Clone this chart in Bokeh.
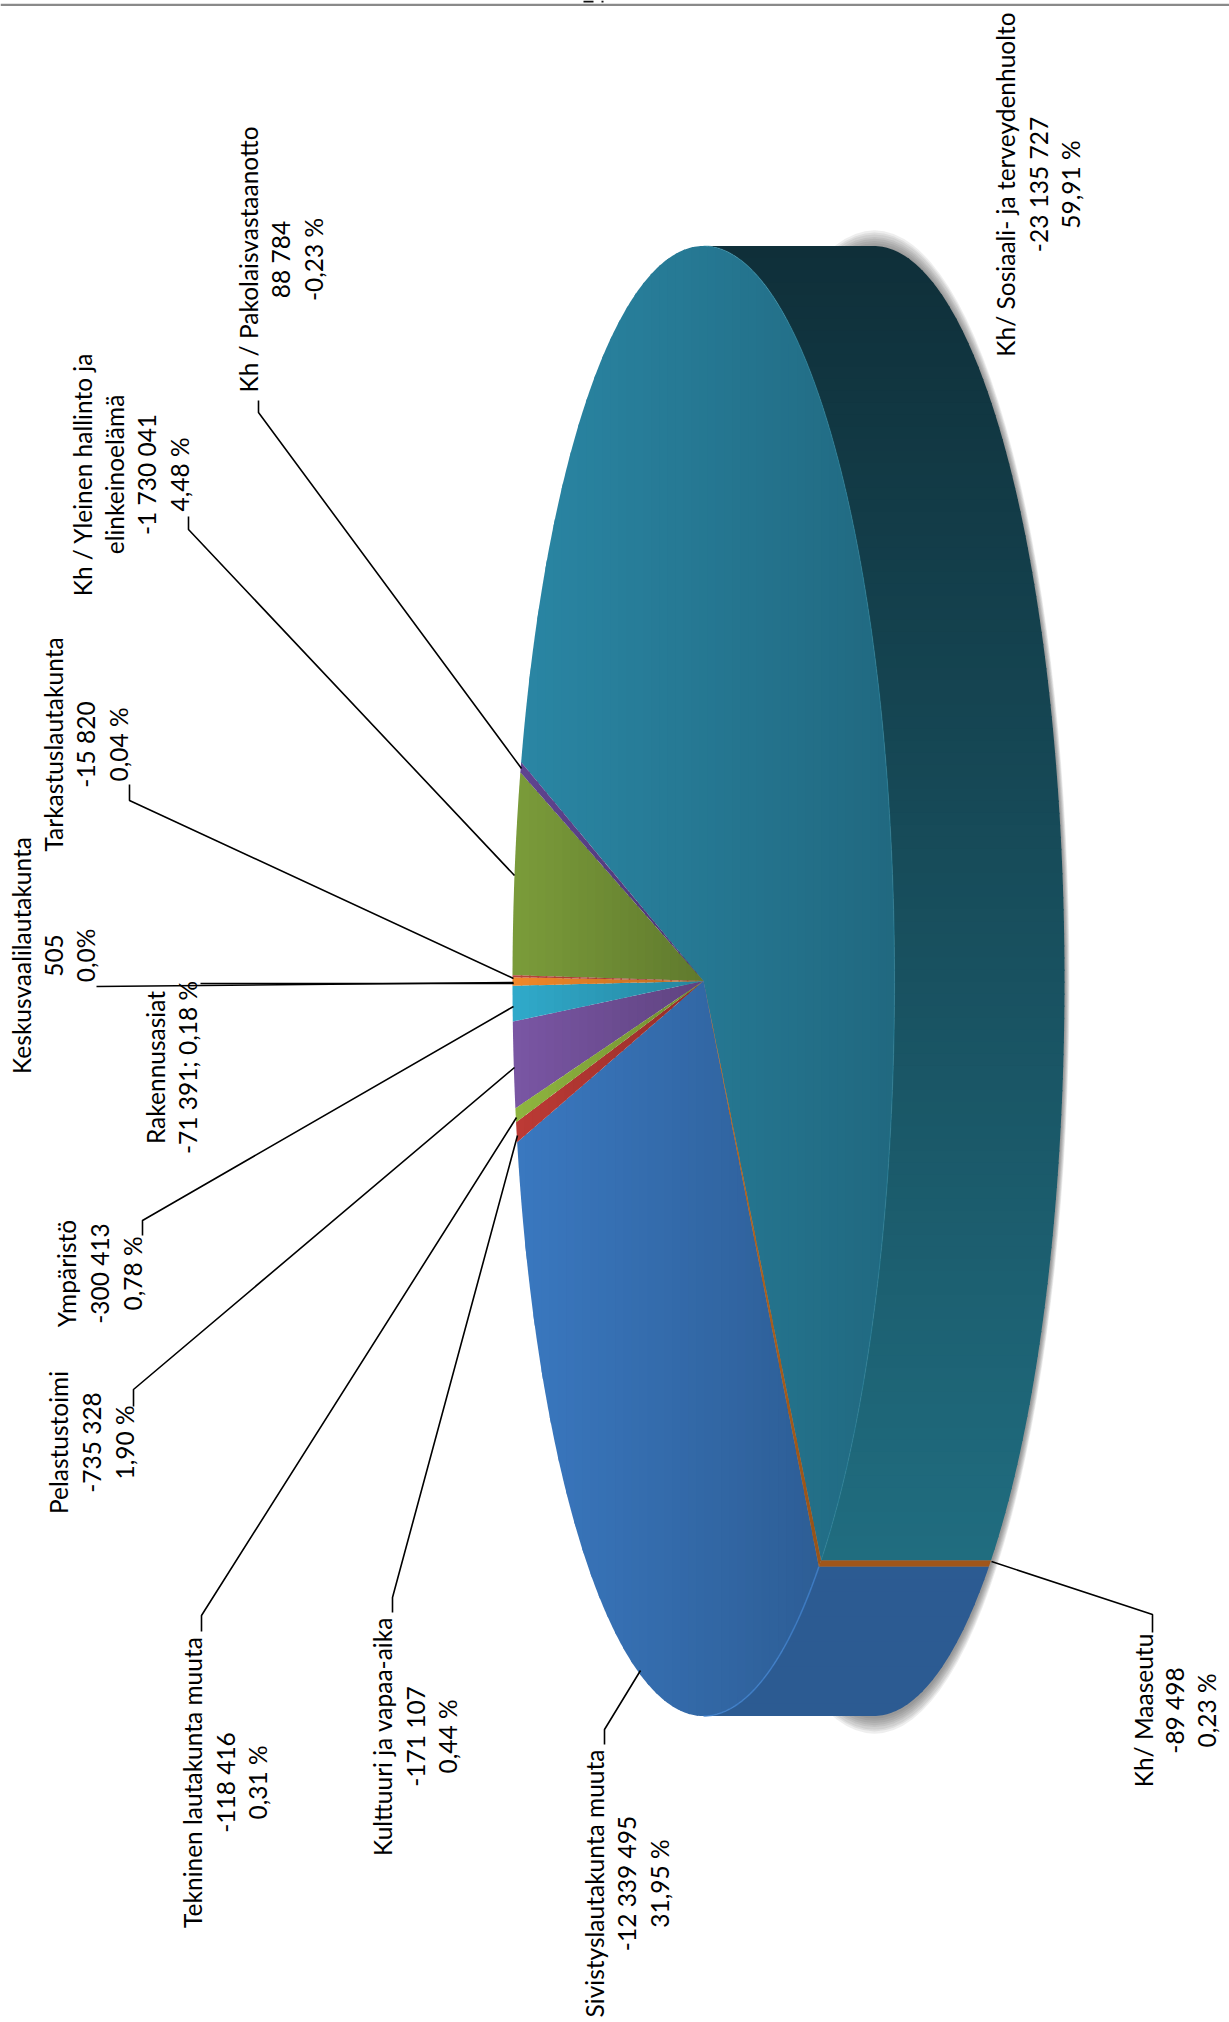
import math
from bokeh.plotting import figure
from bokeh.models import Range1d
from bokeh.core.properties import value
from bokeh.embed import file_html
from bokeh.resources import INLINE

# ---- data (clockwise from the slice lying on the cut) ----
names = ["Kh/ Maaseutu", "Sivistyslautakunta muuta", "Kulttuuri ja vapaa-aika",
         "Tekninen lautakunta muuta", "Pelastustoimi", "Ympäristö", "Rakennusasiat",
         "Keskusvaalilautakunta", "Tarkastuslautakunta",
         "Kh / Yleinen hallinto ja elinkeinoelämä", "Kh / Pakolaisvastaanotto",
         "Kh/ Sosiaali- ja terveydenhuolto"]
amounts = [89498, 12339495, 171107, 118416, 735328, 300413, 71391, 505, 15820, 1730041, 88784, 23135727]
amount_labels = ["-89 498", "-12 339 495", "-171 107", "-118 416", "-735 328", "-300 413", "-71 391",
                 "505", "-15 820", "-1 730 041", "88 784", "-23 135 727"]
percent_labels = ["0,23 %", "31,95 %", "0,44 %", "0,31 %", "1,90 %", "0,78 %", "0,18 %",
                  "0,0%", "0,04 %", "4,48 %", "-0,23 %", "59,91 %"]
colors = ["#c06a20", "#3a78c0", "#bd3a35", "#8fb53f", "#7a56a4", "#30aacb", "#f0882a",
          "#c04a36", "#b9443a", "#7b9c3a", "#5f4490", "#2a86a4"]

# ---- layout ----
W, H = 1229, 2022
CX, CY, RX, RY, DEPTH = 703.0, 980.5, 191.0, 735.0, 170.0
START_DEG = 52.0
FONT = value("Lato")
FS = "24.5px"
TEXT_DX = -2

blocks = [
    (["Kh/ Sosiaali- ja terveydenhuolto", "-23 135 727", "59,91 %"], [1007, 1040, 1072], 184),
    (["Kh / Pakolaisvastaanotto", "88 784", "-0,23 %"], [250, 282, 315], 259),
    (["Kh / Yleinen hallinto ja", "elinkeinoelämä", "-1 730 041", "4,48 %"], [84, 116, 148, 181], 474),
    (["Tarkastuslautakunta", "-15 820", "0,04 %"], [55, 87, 120], 744),
    (["Keskusvaalilautakunta", "505", "0,0%"], [23, 55, 87], 955),
    (["Rakennusasiat", "-71 391; 0,18 %"], [157, 189], 1067),
    (["Ympäristö", "-300 413", "0,78 %"], [68, 101, 134], 1273),
    (["Pelastustoimi", "-735 328", "1,90 %"], [60, 93, 126], 1442),
    (["Tekninen lautakunta muuta", "-118 416", "0,31 %"], [194, 227, 259], 1782),
    (["Kulttuuri ja vapaa-aika", "-171 107", "0,44 %"], [384, 417, 449], 1736),
    (["Sivistyslautakunta muuta", "-12 339 495", "31,95 %"], [596, 628, 661], 1883),
    (["Kh/ Maaseutu", "-89 498", "0,23 %"], [1145, 1176, 1208], 1710),
]
leaders = [
    ([258, 258, 521], [400, 412, 768]),
    ([188, 188, 514], [516, 529, 875]),
    ([129, 129, 513], [784, 800, 978]),
    ([96, 513], [986, 982]),
    ([200, 513], [983, 983]),
    ([142, 142, 513], [1235, 1220, 1006]),
    ([133, 133, 514], [1406, 1389, 1067]),
    ([201, 201, 516], [1631, 1615, 1117]),
    ([392, 392, 517], [1612, 1597, 1135]),
    ([604, 604, 640], [1744, 1729, 1670]),
    ([1152, 1152, 991], [1632, 1614, 1561]),
]


def shade(hex_color, f):
    r, g, b = (int(hex_color[i:i + 2], 16) for i in (1, 3, 5))
    return "#%02x%02x%02x" % (round(r * f), round(g * f), round(b * f))


def mix(a, b, f):
    ca = [int(a[i:i + 2], 16) for i in (1, 3, 5)]
    cb = [int(b[i:i + 2], 16) for i in (1, 3, 5)]
    return "#%02x%02x%02x" % tuple(round(x + (y - x) * f) for x, y in zip(ca, cb))


def arc(t0, t1, dx=0.0):
    n = max(3, int(abs(t1 - t0) * 1.5))
    pts = []
    for i in range(n + 1):
        t = math.radians(t0 + (t1 - t0) * i / n)
        pts.append((CX + dx + RX * math.cos(t), CY + RY * math.sin(t)))
    return pts


def clip(poly, axis, lo, hi):
    def one(pts, keep, cross):
        out = []
        for i, p in enumerate(pts):
            q = pts[(i + 1) % len(pts)]
            kp, kq = keep(p), keep(q)
            if kp:
                out.append(p)
            if kp != kq:
                out.append(cross(p, q))
        return out

    def cross_at(v):
        def c(p, q):
            f = (v - p[axis]) / (q[axis] - p[axis])
            return (p[0] + (q[0] - p[0]) * f, p[1] + (q[1] - p[1]) * f)
        return c

    r = one(poly, lambda p: p[axis] >= lo, cross_at(lo))
    if r:
        r = one(r, lambda p: p[axis] <= hi, cross_at(hi))
    return r


total = sum(amounts)
angles = []
a = START_DEG
for v in amounts:
    angles.append((a, a + v / total * 360.0))
    a = angles[-1][1]

p = figure(width=W, height=H, x_range=Range1d(0, W), y_range=Range1d(H, 0),
           toolbar_location=None, output_backend="svg", x_axis_type=None, y_axis_type=None,
           min_border=0, margin=0)
p.grid.visible = False
p.outline_line_color = None
p.background_fill_color = "white"
p.border_fill_color = "white"

# page rule and cut-off page number at the top
p.quad(left=[0], right=[W], top=[3.2], bottom=[5.4], fill_color="#8a8a8a", line_color=None)
p.quad(left=[583, 601], right=[593, 603], top=[0, 0], bottom=[2, 2], fill_color="#111111", line_color=None)

# soft shadow behind the back of the cylinder
for k in range(8):
    p.ellipse(x=[CX + DEPTH + 1], y=[CY + 1], width=[2 * (RX + 4 - 0.6 * k)], height=[2 * (RY + 17 - 2.2 * k)],
              fill_color="#404040", fill_alpha=0.09, line_color=None)

# cylinder wall (only the part that faces the viewer)
xs, ys, cols = [], [], []
for i, (t0, t1) in enumerate(angles):
    for shift in (0, 360, -360):
        s0, s1 = max(t0 + shift, -90), min(t1 + shift, 90)
        if s1 <= s0:
            continue
        poly = arc(s0, s1) + arc(s1, s0, DEPTH)
        ymin, ymax = min(q[1] for q in poly), max(q[1] for q in poly)
        n = max(1, int((ymax - ymin) / 12))
        for j in range(n):
            lo = ymin + (ymax - ymin) * j / n
            hi = ymin + (ymax - ymin) * (j + 1) / n
            c = clip(poly, 1, lo, hi + 1.5)
            if len(c) < 3:
                continue
            xs.append([q[0] for q in c])
            ys.append([q[1] for q in c])
            mid = (lo + hi) / 2
            if i == len(amounts) - 1:
                cols.append(mix("#0f2f39", "#206d80", (mid - 245) / (1563 - 245)))
            elif i == 0:
                cols.append("#a0561a")
            else:
                cols.append(shade(colors[i], 0.76))
p.patches(xs, ys, fill_color=cols, line_color=None)

# top face: biggest slice first, each with a left-to-right fade
order = sorted(range(len(amounts)), key=lambda i: -amounts[i])
xs, ys, cols = [], [], []
for i in order:
    t0, t1 = angles[i]
    poly = [(CX, CY)] + arc(t0, t1)
    xmin, xmax = min(q[0] for q in poly), max(q[0] for q in poly)
    n = max(2, int((xmax - xmin) / 8))
    for j in range(n):
        lo = xmin + (xmax - xmin) * j / n
        hi = xmin + (xmax - xmin) * (j + 1) / n
        c = clip(poly, 0, lo, min(hi + 1.5, xmax))
        if len(c) < 3:
            continue
        xs.append([q[0] for q in c])
        ys.append([q[1] for q in c])
        cols.append(shade(colors[i], 1.0 - 0.22 * (j + 0.5) / n))
p.patches(xs, ys, fill_color=cols, line_color=None)

# light rim on the front arc
rim = arc(-90, angles[0][0])
p.line([q[0] for q in rim], [q[1] for q in rim], line_color="#2f8ea8", line_width=1.2, line_alpha=0.45)
rim = arc(angles[0][1], 90)
p.line([q[0] for q in rim], [q[1] for q in rim], line_color="#3f7fca", line_width=1.6, line_alpha=0.8)

# leaders
p.multi_line([l[0] for l in leaders], [l[1] for l in leaders], line_color="black", line_width=1.6)

# labels
tx, ty, tt = [], [], []
for lines, lx, yc in blocks:
    for s, x in zip(lines, lx):
        tx.append(x + TEXT_DX)
        ty.append(yc)
        tt.append(s)
p.text(tx, ty, text=tt, angle=math.pi / 2, text_align="center", text_baseline="middle",
       text_font=FONT, text_font_size=FS, text_color="black")

open("out.html", "w").write(file_html(p, INLINE))
